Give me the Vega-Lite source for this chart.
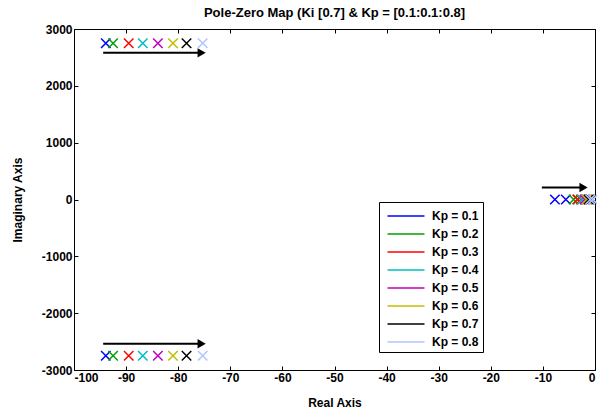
{
  "$schema": "https://vega.github.io/schema/vega-lite/v6.json",
  "width": 521,
  "height": 341,
  "autosize": "none",
  "padding": {"left": 74, "top": 29, "right": 2, "bottom": 45},
  "background": "white",
  "title": {"text": "Pole-Zero Map (Ki [0.7] & Kp = [0.1:0.1:0.8]", "font": "Liberation Sans", "fontSize": 13, "fontWeight": "bold", "color": "black", "offset": 3, "anchor": "middle"},
  "config": {
    "view": {"stroke": "black", "strokeWidth": 1},
    "axis": {"labelFont": "Liberation Sans", "labelFontSize": 12, "labelFontWeight": "bold", "labelColor": "black", "titleFont": "Liberation Sans", "titleFontSize": 12, "titleFontWeight": "bold", "titleColor": "black", "grid": false, "domain": false, "tickColor": "black", "tickSize": -4, "labelPadding": 6}
  },
  "resolve": {"axis": {"x": "independent", "y": "independent"}},
  "datasets": {
    "poles": [
      {"re": -93.9, "im": 2750, "kp": "Kp = 0.1"}, {"re": -93.9, "im": -2750, "kp": "Kp = 0.1"}, {"re": -7.7, "im": 0, "kp": "Kp = 0.1"}, {"re": -5.6, "im": 0, "kp": "Kp = 0.1"},
      {"re": -92.5, "im": 2750, "kp": "Kp = 0.2"}, {"re": -92.5, "im": -2750, "kp": "Kp = 0.2"}, {"re": -4.1, "im": 0, "kp": "Kp = 0.2"}, {"re": -3.3, "im": 0, "kp": "Kp = 0.2"},
      {"re": -89.5, "im": 2750, "kp": "Kp = 0.3"}, {"re": -89.5, "im": -2750, "kp": "Kp = 0.3"}, {"re": -3.4, "im": 0, "kp": "Kp = 0.3"}, {"re": -2.7, "im": 0, "kp": "Kp = 0.3"},
      {"re": -86.8, "im": 2750, "kp": "Kp = 0.4"}, {"re": -86.8, "im": -2750, "kp": "Kp = 0.4"}, {"re": -2.5, "im": 0, "kp": "Kp = 0.4"}, {"re": -1.9, "im": 0, "kp": "Kp = 0.4"},
      {"re": -83.9, "im": 2750, "kp": "Kp = 0.5"}, {"re": -83.9, "im": -2750, "kp": "Kp = 0.5"}, {"re": -2.0, "im": 0, "kp": "Kp = 0.5"}, {"re": -1.5, "im": 0, "kp": "Kp = 0.5"},
      {"re": -81.0, "im": 2750, "kp": "Kp = 0.6"}, {"re": -81.0, "im": -2750, "kp": "Kp = 0.6"}, {"re": -1.6, "im": 0, "kp": "Kp = 0.6"}, {"re": -1.1, "im": 0, "kp": "Kp = 0.6"},
      {"re": -78.4, "im": 2750, "kp": "Kp = 0.7"}, {"re": -78.4, "im": -2750, "kp": "Kp = 0.7"}, {"re": -1.2, "im": 0, "kp": "Kp = 0.7"}, {"re": -0.8, "im": 0, "kp": "Kp = 0.7"},
      {"re": -75.3, "im": 2750, "kp": "Kp = 0.8"}, {"re": -75.3, "im": -2750, "kp": "Kp = 0.8"}, {"re": -0.9, "im": 0, "kp": "Kp = 0.8"}, {"re": -0.4, "im": 0, "kp": "Kp = 0.8"}
    ],
    "arrows": [
      {"x1": -94.4, "x2": -75.5, "y": 2580},
      {"x1": -94.4, "x2": -75.5, "y": -2540},
      {"x1": -10.2, "x2": -2.2, "y": 210}
    ]
  },
  "layer": [
    {
      "mark": {"type": "rule", "color": "#a0a0a0", "strokeWidth": 1},
      "encoding": {"y": {"datum": 0, "type": "quantitative", "axis": null}}
    },
    {
      "data": {"name": "poles"},
      "mark": {"type": "point", "opacity": 0},
      "encoding": {
        "x": {"field": "re", "type": "quantitative", "axis": {"orient": "top", "title": null, "labels": false, "values": [-100, -90, -80, -70, -60, -50, -40, -30, -20, -10, 0]}},
        "y": {"field": "im", "type": "quantitative", "axis": {"orient": "right", "title": null, "labels": false, "values": [-3000, -2000, -1000, 0, 1000, 2000, 3000]}}
      }
    },
    {
      "data": {"name": "poles"},
      "mark": {"type": "point", "shape": "M-1,-1L1,1M1,-1L-1,1", "filled": false, "strokeWidth": 1.5, "size": 90, "opacity": 1},
      "encoding": {
        "x": {"field": "re", "type": "quantitative", "scale": {"domain": [-100, 0], "nice": false, "zero": false}, "axis": {"title": "Real Axis", "values": [-100, -90, -80, -70, -60, -50, -40, -30, -20, -10, 0], "labelExpr": "'' + datum.value", "titlePadding": 14}},
        "y": {"field": "im", "type": "quantitative", "scale": {"domain": [-3000, 3000], "nice": false}, "axis": {"title": "Imaginary Axis", "values": [-3000, -2000, -1000, 0, 1000, 2000, 3000], "labelExpr": "'' + datum.value", "titlePadding": 17}},
        "color": {
          "field": "kp", "type": "nominal",
          "scale": {"domain": ["Kp = 0.1", "Kp = 0.2", "Kp = 0.3", "Kp = 0.4", "Kp = 0.5", "Kp = 0.6", "Kp = 0.7", "Kp = 0.8"], "range": ["#0000ff", "#00a000", "#ff0000", "#00bfbf", "#bf00bf", "#bfbf00", "#000000", "#b0c4ff"]},
          "legend": {"title": null, "orient": "none", "legendX": 305, "legendY": 173, "symbolType": "M-2,0L2,0", "symbolSize": 342, "symbolOffset": 13, "symbolStrokeWidth": 1.5, "labelFont": "Liberation Sans", "labelFontSize": 12, "labelFontWeight": "bold", "labelColor": "black", "labelExpr": "datum.label + ' '", "fillColor": "white", "strokeColor": "black", "padding": 4, "rowPadding": 2, "labelOffset": 16}
        }
      }
    },
    {
      "data": {"name": "arrows"},
      "mark": {"type": "rule", "color": "black", "strokeWidth": 2},
      "encoding": {"x": {"field": "x1", "type": "quantitative", "axis": null}, "x2": {"field": "x2"}, "y": {"field": "y", "type": "quantitative", "axis": null}}
    },
    {
      "data": {"name": "arrows"},
      "mark": {"type": "point", "shape": "triangle-right", "filled": true, "color": "black", "size": 90, "opacity": 1},
      "encoding": {"x": {"field": "x2", "type": "quantitative", "axis": null}, "y": {"field": "y", "type": "quantitative", "axis": null}}
    }
  ]
}
